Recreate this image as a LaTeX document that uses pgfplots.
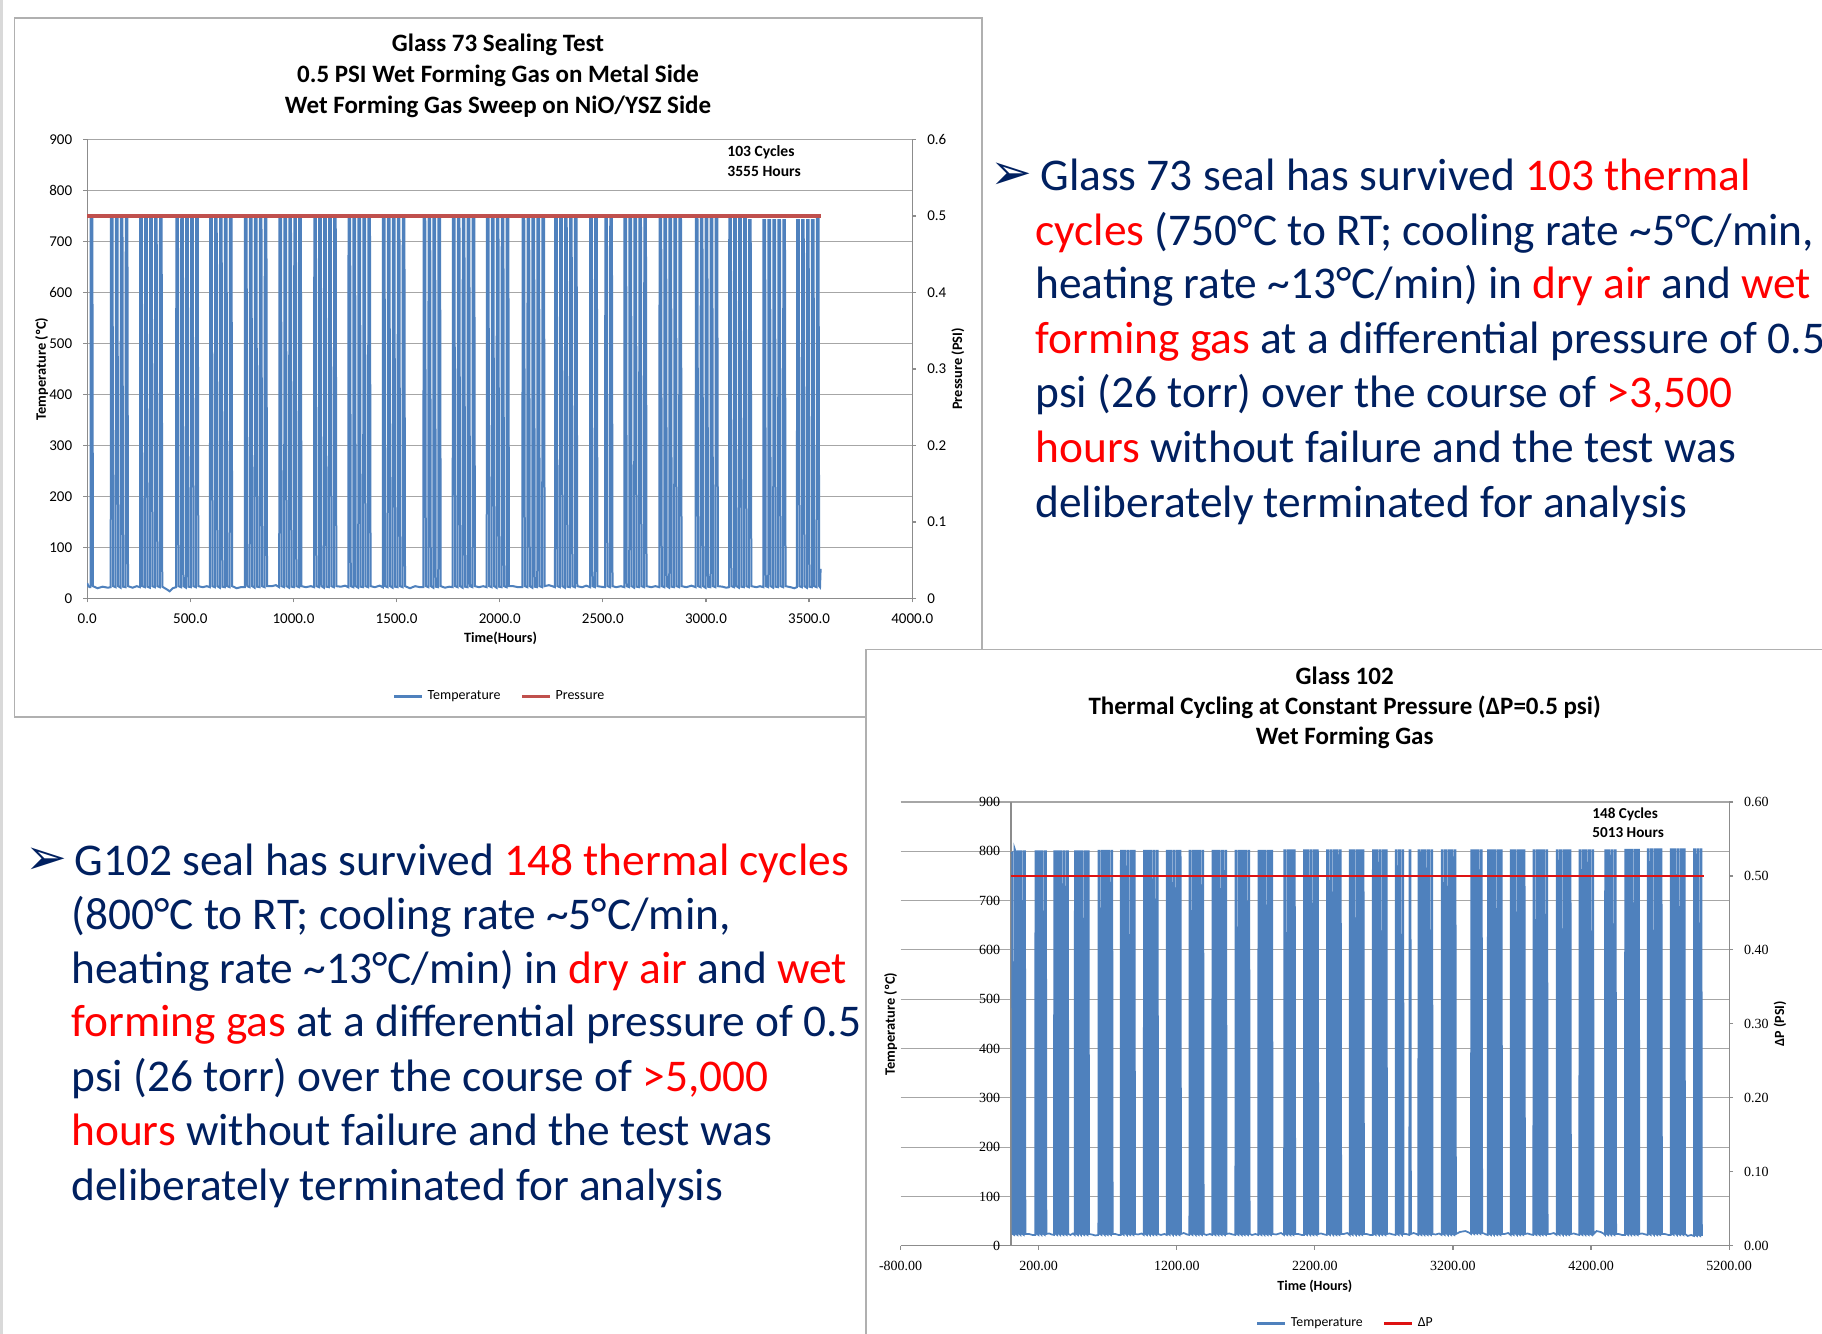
\documentclass[border=0pt]{standalone}
\usepackage{pgfplots}
\pgfplotsset{compat=1.18}
\usepackage{fontspec}
\setmainfont{Carlito}
\newfontfamily\seriffont{Liberation Serif}
\newfontfamily\dejavu{DejaVu Sans}
\definecolor{xblue}{HTML}{4F81BD}
\definecolor{xred}{HTML}{C0504D}
\definecolor{dpred}{RGB}{222,18,18}
\definecolor{navy}{RGB}{0,32,96}
\definecolor{gridgray}{HTML}{A6A6A6}
\definecolor{axgray}{HTML}{8C8C8C}
\definecolor{framegray}{HTML}{B0B0B0}
\newcommand{\R}[1]{\textcolor{red}{#1}}
\newcommand{\ti}{\textasciitilde}
\begin{document}
\begin{tikzpicture}
\path[use as bounding box, fill=white] (0pt,0pt) rectangle (911pt,-667pt);
\begin{scope}[x=0.5pt,y=-0.5pt]
  \fill[gray!30] (0,0) rectangle (3,1334);
  \draw[framegray, line width=0.7pt, fill=white] (14.5,18) rectangle (982,717);
  \node[font=\fontsize{12.5}{15}\selectfont\bfseries] at (498,45) {Glass 73 Sealing Test};
  \node[font=\fontsize{12.5}{15}\selectfont\bfseries] at (498,76) {0.5 PSI Wet Forming Gas on Metal Side};
  \node[font=\fontsize{12.5}{15}\selectfont\bfseries] at (498,106.5) {Wet Forming Gas Sweep on NiO/YSZ Side};
  \node[anchor=west, inner sep=0, font=\fontsize{7.8}{9}\selectfont\bfseries] at (727,152) {103 Cycles};
  \node[anchor=west, inner sep=0, font=\fontsize{7.8}{9}\selectfont\bfseries] at (727,171.3) {3555 Hours};
\end{scope}

% ---------- chart 1 : primary axis ----------
\begin{axis}[
  at={(43.6pt,-299.2pt)}, anchor=south west,
  width=412.5pt, height=229.5pt, scale only axis,
  xmin=0, xmax=4000, ymin=0, ymax=900,
  axis x line*=bottom, axis y line*=left,
  axis line style={line width=0.6pt, draw=axgray},
  tick align=outside, major tick length=2pt,
  tick style={line width=0.6pt, draw=axgray},
  xtick={0,500,...,4000}, ytick={0,100,...,900},
  ymajorgrids, grid style={line width=0.6pt, draw=gridgray},
  /pgf/number format/assume math mode=true,
  tick label style={font=\fontsize{7.5}{9}\selectfont},
  xticklabel style={/pgf/number format/fixed, /pgf/number format/fixed zerofill, /pgf/number format/precision=1, /pgf/number format/1000 sep={}, yshift=-2pt},
  yticklabel style={xshift=-2pt},
  xlabel={Time(Hours)}, ylabel={Temperature (ºC)},
  every axis x label/.style={at={(axis description cs:0.501,-0.0867)}, anchor=center, font=\fontsize{7.1}{8.5}\selectfont\bfseries},
  every axis y label/.style={at={(axis description cs:-0.0552,0.5)}, rotate=90, anchor=center, font=\fontsize{7.2}{8.6}\selectfont\bfseries},
  legend style={at={(0.501,-0.2137)}, anchor=center, draw=none, fill=none, legend columns=2, font=\fontsize{7}{8.4}\selectfont, /tikz/every even column/.append style={column sep=8pt}},
  legend image code/.code={\draw[#1, line width=1.5pt] (0pt,0pt) -- (14pt,0pt);},
]
\addplot[xblue, line width=1.0pt, forget plot] coordinates {
(0,30)(6,24)(12,22)
(16,22)(17,745)(25,745)(28,24)
(50,20)(75,23)(100,21)
(114,22)(115,745)(123,745)(126,24)
(138,22)(139,745)(147,745)(150,24)
(162,21)(163,745)(171,745)(174,23)
(186,22)(187,745)(195,745)(198,24)
(220,21)(240,24)
(256,22)(257,745)(265,745)(268,24)
(280,22)(281,745)(289,745)(292,23)
(304,21)(305,745)(313,745)(316,24)
(328,22)(329,745)(337,745)(340,24)
(352,22)(353,745)(361,745)(364,23)
(385,18)(400,14)(415,20)
(431,22)(432,745)(440,745)(443,24)
(455,22)(456,745)(464,745)(467,24)
(479,21)(480,745)(488,745)(491,23)
(503,22)(504,745)(512,745)(515,24)
(527,22)(528,745)(536,745)(539,24)
(560,22)(580,24)
(595,22)(596,745)(604,745)(607,24)
(619,22)(620,745)(628,745)(631,24)
(643,21)(644,745)(652,745)(655,23)
(667,22)(668,745)(676,745)(679,24)
(691,22)(692,745)(700,745)(703,24)
(725,20)(745,22)
(764,22)(765,745)(773,745)(776,24)
(788,22)(789,745)(797,745)(800,24)
(812,21)(813,745)(821,745)(824,23)
(836,22)(837,745)(845,745)(848,24)
(860,22)(861,745)(869,745)(872,24)
(895,24)(915,26)
(931,22)(932,745)(940,745)(943,24)
(955,22)(956,745)(964,745)(967,24)
(979,21)(980,745)(988,745)(991,23)
(1003,22)(1004,745)(1012,745)(1015,24)
(1027,22)(1028,745)(1036,745)(1039,24)
(1060,22)(1085,24)
(1100,22)(1101,745)(1109,745)(1112,24)
(1124,22)(1125,745)(1133,745)(1136,24)
(1148,21)(1149,745)(1157,745)(1160,23)
(1172,22)(1173,745)(1181,745)(1184,24)
(1196,22)(1197,745)(1205,745)(1208,24)
(1230,23)(1250,25)
(1266,22)(1267,745)(1275,745)(1278,24)
(1290,22)(1291,745)(1299,745)(1302,24)
(1314,21)(1315,745)(1323,745)(1326,23)
(1338,22)(1339,745)(1347,745)(1350,24)
(1362,22)(1363,745)(1371,745)(1374,24)
(1395,22)(1418,25)
(1433,22)(1434,745)(1442,745)(1445,24)
(1457,22)(1458,745)(1466,745)(1469,24)
(1481,21)(1482,745)(1490,745)(1493,23)
(1505,22)(1506,745)(1514,745)(1517,24)
(1529,22)(1530,745)(1538,745)(1541,24)
(1565,20)(1590,24)(1615,22)
(1630,22)(1631,745)(1639,745)(1642,24)
(1654,22)(1655,745)(1663,745)(1666,24)
(1678,21)(1679,745)(1687,745)(1690,23)
(1702,22)(1703,745)(1711,745)(1714,24)
(1735,21)(1755,23)
(1772,22)(1773,745)(1781,745)(1784,24)
(1796,22)(1797,745)(1805,745)(1808,24)
(1820,21)(1821,745)(1829,745)(1832,23)
(1844,22)(1845,745)(1853,745)(1856,24)
(1868,22)(1869,745)(1877,745)(1880,24)
(1900,22)(1920,24)
(1937,22)(1938,745)(1946,745)(1949,24)
(1961,22)(1962,745)(1970,745)(1973,24)
(1985,21)(1986,745)(1994,745)(1997,23)
(2009,22)(2010,745)(2018,745)(2021,24)
(2033,22)(2034,745)(2042,745)(2045,24)
(2065,24)(2090,22)
(2110,22)(2111,745)(2119,745)(2122,24)
(2134,22)(2135,745)(2143,745)(2146,24)
(2158,21)(2159,745)(2167,745)(2170,23)
(2182,22)(2183,745)(2191,745)(2194,24)
(2206,22)(2207,745)(2215,745)(2218,24)
(2238,26)(2255,24)
(2268,22)(2269,745)(2277,745)(2280,24)
(2292,22)(2293,745)(2301,745)(2304,24)
(2316,21)(2317,745)(2325,745)(2328,23)
(2340,22)(2341,745)(2349,745)(2352,24)
(2364,22)(2365,745)(2373,745)(2376,24)
(2400,22)(2420,25)
(2438,22)(2439,745)(2447,745)(2450,24)
(2462,22)(2463,745)(2471,745)(2474,24)
(2490,23)
(2511,22)(2512,745)(2520,745)(2523,24)
(2535,22)(2536,745)(2544,745)(2547,24)
(2565,22)(2588,24)
(2604,22)(2605,745)(2613,745)(2616,24)
(2628,22)(2629,745)(2637,745)(2640,24)
(2652,21)(2653,745)(2661,745)(2664,23)
(2676,22)(2677,745)(2685,745)(2688,24)
(2700,22)(2701,745)(2709,745)(2712,24)
(2735,22)(2755,24)
(2774,22)(2775,745)(2783,745)(2786,24)
(2798,22)(2799,745)(2807,745)(2810,24)
(2822,21)(2823,745)(2831,745)(2834,23)
(2846,22)(2847,745)(2855,745)(2858,24)
(2870,22)(2871,745)(2879,745)(2882,24)
(2905,22)(2930,25)
(2950,22)(2951,745)(2959,745)(2962,24)
(2974,22)(2975,745)(2983,745)(2986,24)
(2998,21)(2999,745)(3007,745)(3010,23)
(3022,22)(3023,745)(3031,745)(3034,24)
(3046,22)(3047,745)(3055,745)(3058,24)
(3080,23)(3098,21)
(3112,22)(3113,745)(3121,745)(3124,24)
(3136,22)(3137,745)(3145,745)(3148,24)
(3160,21)(3161,745)(3169,745)(3172,23)
(3184,22)(3185,745)(3193,745)(3196,24)
(3208,22)(3209,742)(3217,742)(3220,24)
(3245,22)(3262,24)
(3278,22)(3279,742)(3287,742)(3290,24)
(3302,22)(3303,742)(3311,742)(3314,24)
(3326,21)(3327,742)(3335,742)(3338,23)
(3350,22)(3351,742)(3359,742)(3362,24)
(3374,22)(3375,742)(3383,742)(3386,24)
(3410,22)(3428,20)
(3441,22)(3442,742)(3450,742)(3453,24)
(3465,22)(3466,742)(3474,742)(3477,24)
(3489,21)(3490,742)(3498,742)(3501,23)
(3513,22)(3514,742)(3522,742)(3525,24)
(3537,22)(3538,745)(3546,745)(3549,24)
(3553,22)(3556,58)
};
\addlegendimage{xblue}\addlegendentry{Temperature}
\addlegendimage{xred}\addlegendentry{Pressure}
\end{axis}

% ---------- chart 1 : secondary axis ----------
\begin{axis}[
  at={(43.6pt,-299.2pt)}, anchor=south west,
  width=412.5pt, height=229.5pt, scale only axis,
  xmin=0, xmax=4000, ymin=0, ymax=0.6,
  axis y line*=right, axis x line=none,
  axis line style={line width=0.6pt, draw=axgray},
  tick align=outside, major tick length=2pt,
  tick style={line width=0.6pt, draw=axgray},
  ytick={0,0.1,0.2,0.3,0.4,0.5,0.6},
  /pgf/number format/assume math mode=true,
  tick label style={font=\fontsize{7.5}{9}\selectfont},
  yticklabel style={xshift=2pt},
  ylabel={Pressure (PSI)},
  every axis y label/.style={at={(axis description cs:1.0552,0.5)}, rotate=90, anchor=center, font=\fontsize{7.2}{8.6}\selectfont\bfseries},
]
\addplot[xred, line width=1.7pt] coordinates {(0,0.5) (3556,0.5)};
\end{axis}

% ---------- chart 2 frame and titles ----------
\begin{scope}[x=0.5pt,y=-0.5pt]
  \draw[framegray, line width=0.7pt, fill=white] (866,649.5) rectangle (1840,1350);
  \node[font=\fontsize{12.5}{15}\selectfont\bfseries] at (1344.7,676.3) {Glass 102};
  \node[font=\fontsize{12.5}{15}\selectfont\bfseries] at (1344.7,707.3) {Thermal Cycling at Constant Pressure (ΔP=0.5 psi)};
  \node[font=\fontsize{12.5}{15}\selectfont\bfseries] at (1344.7,738.2) {Wet Forming Gas};
  \node[anchor=west, inner sep=0, font=\fontsize{7.6}{9}\selectfont\bfseries] at (1592,814) {148 Cycles};
  \node[anchor=west, inner sep=0, font=\fontsize{7.6}{9}\selectfont\bfseries] at (1592,833) {5013 Hours};
\end{scope}

% ---------- chart 2 : primary axis ----------
\begin{axis}[
  at={(450.3pt,-622.9pt)}, anchor=south west,
  width=414.25pt, height=221.95pt, scale only axis,
  xmin=-800, xmax=5200, ymin=0, ymax=900,
  separate axis lines,
  axis x line*=bottom, axis y line*=left,
  x axis line style={line width=0.6pt, draw=axgray},
  y axis line style={draw=none},
  tick align=outside, major tick length=2pt,
  xtick style={line width=0.6pt, draw=axgray},
  ytick style={draw=none},
  xtick={-800,200,...,5200}, ytick={0,100,...,900},
  ymajorgrids, grid style={line width=0.6pt, draw=gridgray},
  /pgf/number format/assume math mode=true,
  tick label style={font=\seriffont\fontsize{7}{8.4}\selectfont},
  xticklabel style={/pgf/number format/fixed, /pgf/number format/fixed zerofill, /pgf/number format/precision=2, /pgf/number format/1000 sep={}, yshift=-2pt},
  yticklabel style={xshift=55.24pt},
  xlabel={Time (Hours)}, ylabel={Temperature (ºC)},
  every axis x label/.style={at={(axis description cs:0.5,-0.0908)}, anchor=center, font=\fontsize{7}{8.4}\selectfont\bfseries},
  every axis y label/.style={at={(axis description cs:-0.012,0.5)}, rotate=90, anchor=center, font=\fontsize{7.2}{8.6}\selectfont\bfseries},
  legend style={at={(0.538,-0.1755)}, anchor=center, draw=none, fill=none, legend columns=2, font=\fontsize{6.9}{8.3}\selectfont, /tikz/every even column/.append style={column sep=8pt}},
  legend image code/.code={\draw[#1, line width=1.5pt] (0pt,0pt) -- (14pt,0pt);},
]
\draw[line width=0.6pt, draw=axgray] (axis cs:0,0) -- (axis cs:0,900);
\addplot[xblue, line width=0.85pt, forget plot] coordinates {
(0,795)(8,797)(11,24)
(23,22)(24,807)(32,800)(35,24)
(46,22)(47,800)(55,800)(58,25)
(69,22)(70,800)(78,800)(81,24)
(92,22)(93,800)(101,800)(104,24)
(130,24)(155,22)
(175,22)(176,800)(184,800)(187,24)
(198,22)(199,800)(207,800)(210,25)
(221,22)(222,800)(230,800)(233,24)
(244,22)(245,800)(253,800)(256,24)
(275,25)(295,23)
(311,22)(312,800)(320,800)(323,24)
(334,22)(335,800)(343,800)(346,25)
(357,22)(358,800)(366,800)(369,24)
(380,22)(381,800)(389,800)(392,24)
(403,22)(404,800)(412,800)(415,24)
(430,22)(448,25)
(461,22)(462,800)(470,800)(473,24)
(484,22)(485,800)(493,800)(496,25)
(507,22)(508,800)(516,800)(519,24)
(530,22)(531,800)(539,800)(542,24)
(553,22)(554,800)(562,800)(565,24)
(585,23)(610,21)
(632,22)(633,801)(641,801)(644,24)
(655,22)(656,801)(664,801)(667,25)
(678,22)(679,801)(687,801)(690,24)
(701,22)(702,801)(710,801)(713,24)
(724,22)(725,801)(733,801)(736,24)
(755,24)(778,22)
(794,22)(795,801)(803,801)(806,24)
(817,22)(818,801)(826,801)(829,25)
(840,22)(841,801)(849,801)(852,24)
(863,22)(864,801)(872,801)(875,24)
(886,22)(887,801)(895,801)(898,24)
(920,23)(945,25)
(961,22)(962,801)(970,801)(973,24)
(984,22)(985,801)(993,801)(996,25)
(1007,22)(1008,801)(1016,801)(1019,24)
(1030,22)(1031,801)(1039,801)(1042,24)
(1053,22)(1054,801)(1062,801)(1065,24)
(1085,22)(1110,24)
(1127,22)(1128,801)(1136,801)(1139,24)
(1150,22)(1151,801)(1159,801)(1162,25)
(1173,22)(1174,801)(1182,801)(1185,24)
(1196,22)(1197,801)(1205,801)(1208,24)
(1219,22)(1220,801)(1228,801)(1231,24)
(1250,26)(1275,23)
(1291,22)(1292,801)(1300,801)(1303,24)
(1314,22)(1315,801)(1323,801)(1326,25)
(1337,22)(1338,801)(1346,801)(1349,24)
(1360,22)(1361,801)(1369,801)(1372,24)
(1383,22)(1384,801)(1392,801)(1395,24)
(1415,22)(1440,24)
(1457,22)(1458,801)(1466,801)(1469,24)
(1480,22)(1481,801)(1489,801)(1492,25)
(1503,22)(1504,801)(1512,801)(1515,24)
(1526,22)(1527,801)(1535,801)(1538,24)
(1549,22)(1550,801)(1558,801)(1561,24)
(1580,25)(1605,23)
(1624,22)(1625,801)(1633,801)(1636,24)
(1647,22)(1648,801)(1656,801)(1659,25)
(1670,22)(1671,801)(1679,801)(1682,24)
(1693,22)(1694,801)(1702,801)(1705,24)
(1716,22)(1717,801)(1725,801)(1728,24)
(1745,22)(1770,24)
(1790,22)(1791,801)(1799,801)(1802,24)
(1813,22)(1814,801)(1822,801)(1825,25)
(1836,22)(1837,801)(1845,801)(1848,24)
(1859,22)(1860,801)(1868,801)(1871,24)
(1882,22)(1883,801)(1891,801)(1894,24)
(1920,23)(1955,26)
(1977,22)(1978,802)(1986,802)(1989,24)
(2000,22)(2001,802)(2009,802)(2012,25)
(2023,22)(2024,802)(2032,802)(2035,24)
(2046,22)(2047,802)(2055,802)(2058,24)
(2080,24)(2105,22)
(2121,22)(2122,802)(2130,802)(2133,24)
(2144,22)(2145,802)(2153,802)(2156,25)
(2167,22)(2168,802)(2176,802)(2179,24)
(2190,22)(2191,802)(2199,802)(2202,24)
(2213,22)(2214,802)(2222,802)(2225,24)
(2245,25)(2270,23)
(2287,22)(2288,802)(2296,802)(2299,24)
(2310,22)(2311,802)(2319,802)(2322,25)
(2333,22)(2334,802)(2342,802)(2345,24)
(2356,22)(2357,802)(2365,802)(2368,24)
(2379,22)(2380,802)(2388,802)(2391,24)
(2410,24)(2435,26)
(2452,22)(2453,802)(2461,802)(2464,24)
(2475,22)(2476,802)(2484,802)(2487,25)
(2498,22)(2499,802)(2507,802)(2510,24)
(2521,22)(2522,802)(2530,802)(2533,24)
(2544,22)(2545,802)(2553,802)(2556,24)
(2575,24)(2600,22)
(2619,22)(2620,802)(2628,802)(2631,24)
(2642,22)(2643,802)(2651,802)(2654,25)
(2665,22)(2666,802)(2674,802)(2677,24)
(2688,22)(2689,802)(2697,802)(2700,24)
(2711,22)(2712,802)(2720,802)(2723,24)
(2740,25)(2765,23)
(2785,22)(2786,802)(2794,802)(2797,24)
(2808,22)(2809,802)(2817,802)(2820,25)
(2831,22)(2832,802)(2840,802)(2843,24)
(2860,24)
(2884,22)(2885,802)(2893,802)(2896,24)
(2915,26)(2935,24)
(2949,22)(2950,802)(2958,802)(2961,24)
(2972,22)(2973,802)(2981,802)(2984,25)
(2995,22)(2996,802)(3004,802)(3007,24)
(3018,22)(3019,802)(3027,802)(3030,24)
(3041,22)(3042,802)(3050,802)(3053,24)
(3075,23)(3100,25)
(3118,22)(3119,802)(3127,802)(3130,24)
(3141,22)(3142,802)(3150,802)(3153,25)
(3164,22)(3165,802)(3173,802)(3176,24)
(3187,22)(3188,802)(3196,802)(3199,24)
(3210,22)(3211,802)(3219,802)(3222,24)
(3250,28)(3290,30)(3315,27)
(3331,24)(3332,802)(3340,802)(3343,26)
(3354,24)(3355,802)(3363,802)(3366,26)
(3377,24)(3378,802)(3386,802)(3389,26)
(3400,24)(3401,802)(3409,802)(3412,26)
(3425,25)(3440,23)
(3452,22)(3453,802)(3461,802)(3464,24)
(3475,22)(3476,802)(3484,802)(3487,25)
(3498,22)(3499,802)(3507,802)(3510,24)
(3521,22)(3522,802)(3530,802)(3533,24)
(3544,22)(3545,802)(3553,802)(3556,24)
(3575,24)(3600,26)
(3618,22)(3619,802)(3627,802)(3630,24)
(3641,22)(3642,802)(3650,802)(3653,25)
(3664,22)(3665,802)(3673,802)(3676,24)
(3687,22)(3688,802)(3696,802)(3699,24)
(3710,22)(3711,802)(3719,802)(3722,24)
(3740,25)(3765,23)
(3782,22)(3783,802)(3791,802)(3794,24)
(3805,22)(3806,802)(3814,802)(3817,25)
(3828,22)(3829,802)(3837,802)(3840,24)
(3851,22)(3852,802)(3860,802)(3863,24)
(3874,22)(3875,802)(3883,802)(3886,24)
(3905,24)(3930,26)
(3951,22)(3952,802)(3960,802)(3963,24)
(3974,22)(3975,802)(3983,802)(3986,25)
(3997,22)(3998,802)(4006,802)(4009,24)
(4020,22)(4021,802)(4029,802)(4032,24)
(4043,22)(4044,802)(4052,802)(4055,24)
(4075,25)(4100,23)
(4115,22)(4116,802)(4124,802)(4127,24)
(4138,22)(4139,802)(4147,802)(4150,25)
(4161,22)(4162,802)(4170,802)(4173,24)
(4184,22)(4185,802)(4193,802)(4196,24)
(4207,22)(4208,802)(4216,802)(4219,24)
(4240,30)(4270,28)(4290,25)
(4301,22)(4302,802)(4310,802)(4313,24)
(4324,22)(4325,802)(4333,802)(4336,25)
(4347,22)(4348,802)(4356,802)(4359,24)
(4370,22)(4371,802)(4379,802)(4382,24)
(4400,24)(4425,22)
(4446,22)(4447,803)(4455,803)(4458,24)
(4469,22)(4470,803)(4478,803)(4481,25)
(4492,22)(4493,803)(4501,803)(4504,24)
(4515,22)(4516,803)(4524,803)(4527,24)
(4538,22)(4539,803)(4547,803)(4550,24)
(4570,25)(4595,23)
(4610,22)(4611,804)(4619,804)(4622,24)
(4633,22)(4634,804)(4642,804)(4645,25)
(4656,22)(4657,804)(4665,804)(4668,24)
(4679,22)(4680,804)(4688,804)(4691,24)
(4702,22)(4703,804)(4711,804)(4714,24)
(4735,24)(4760,22)
(4777,22)(4778,804)(4786,804)(4789,24)
(4800,22)(4801,804)(4809,804)(4812,25)
(4823,22)(4824,804)(4832,804)(4835,24)
(4846,22)(4847,804)(4855,804)(4858,24)
(4869,22)(4870,804)(4878,804)(4881,24)
(4900,20)(4925,22)
(4945,20)(4946,804)(4954,804)(4957,22)
(4968,20)(4969,804)(4977,804)(4980,22)
(4991,20)(4992,804)(5000,804)(5003,22)
(5010,22)
};
\addlegendimage{xblue}\addlegendentry{Temperature}
\addlegendimage{dpred}\addlegendentry{ΔP}
\end{axis}

% ---------- chart 2 : secondary axis ----------
\begin{axis}[
  at={(450.3pt,-622.9pt)}, anchor=south west,
  width=414.25pt, height=221.95pt, scale only axis,
  xmin=-800, xmax=5200, ymin=0, ymax=0.6,
  axis y line*=right, axis x line=none,
  axis line style={line width=0.6pt, draw=axgray},
  tick align=outside, major tick length=2pt,
  tick style={line width=0.6pt, draw=axgray},
  ytick={0,0.1,0.2,0.3,0.4,0.5,0.6},
  /pgf/number format/assume math mode=true,
  tick label style={font=\seriffont\fontsize{7}{8.4}\selectfont},
  yticklabel style={/pgf/number format/fixed, /pgf/number format/fixed zerofill, /pgf/number format/precision=2, xshift=2pt},
  ylabel={ΔP (PSI)},
  every axis y label/.style={at={(axis description cs:1.0614,0.5)}, rotate=90, anchor=center, font=\fontsize{7}{8.4}\selectfont\bfseries},
]
\addplot[dpred, line width=1.4pt] coordinates {(0,0.5) (5020,0.5)};
\end{axis}

% ---------- slide text ----------
\begin{scope}[x=0.5pt,y=-0.5pt, every node/.style={anchor=base west, inner sep=0, text=navy}]
  \def\bodyfont{\fontsize{22.7}{27}\selectfont}
  \node[anchor=center, font=\dejavu\fontsize{25}{30}\selectfont] at (1011,176.6) {➢};
  \node[font=\bodyfont] at (1040,190.6) {Glass 73 seal has survived \R{103 thermal}};
  \node[font=\bodyfont] at (1035,245.2) {\R{cycles} (750°C to RT; cooling rate \ti5°C/min,};
  \node[font=\bodyfont] at (1035,298.7) {heating rate \ti13°C/min) in \R{dry air} and \R{wet}};
  \node[font=\bodyfont] at (1035,353.3) {\R{forming gas} at a differential pressure of 0.5};
  \node[font=\bodyfont] at (1035,407.9) {psi (26 torr) over the course of \R{>3,500}};
  \node[font=\bodyfont] at (1035,462.5) {\R{hours} without failure and the test was};
  \node[font=\bodyfont] at (1035,517.1) {deliberately terminated for analysis};

  \node[anchor=center, font=\dejavu\fontsize{25}{30}\selectfont] at (46.5,861) {➢};
  \node[font=\bodyfont] at (74,875) {G102 seal has survived \R{148 thermal cycles}};
  \node[font=\bodyfont] at (71,929.6) {(800°C to RT; cooling rate \ti5°C/min,};
  \node[font=\bodyfont] at (71,983) {heating rate \ti13°C/min) in \R{dry air} and \R{wet}};
  \node[font=\bodyfont] at (71,1036.6) {\R{forming gas} at a differential pressure of 0.5};
  \node[font=\bodyfont] at (71,1091) {psi (26 torr) over the course of \R{>5,000}};
  \node[font=\bodyfont] at (71,1145.8) {\R{hours} without failure and the test was};
  \node[font=\bodyfont] at (71,1200.4) {deliberately terminated for analysis};
\end{scope}
\end{tikzpicture}
\end{document}
